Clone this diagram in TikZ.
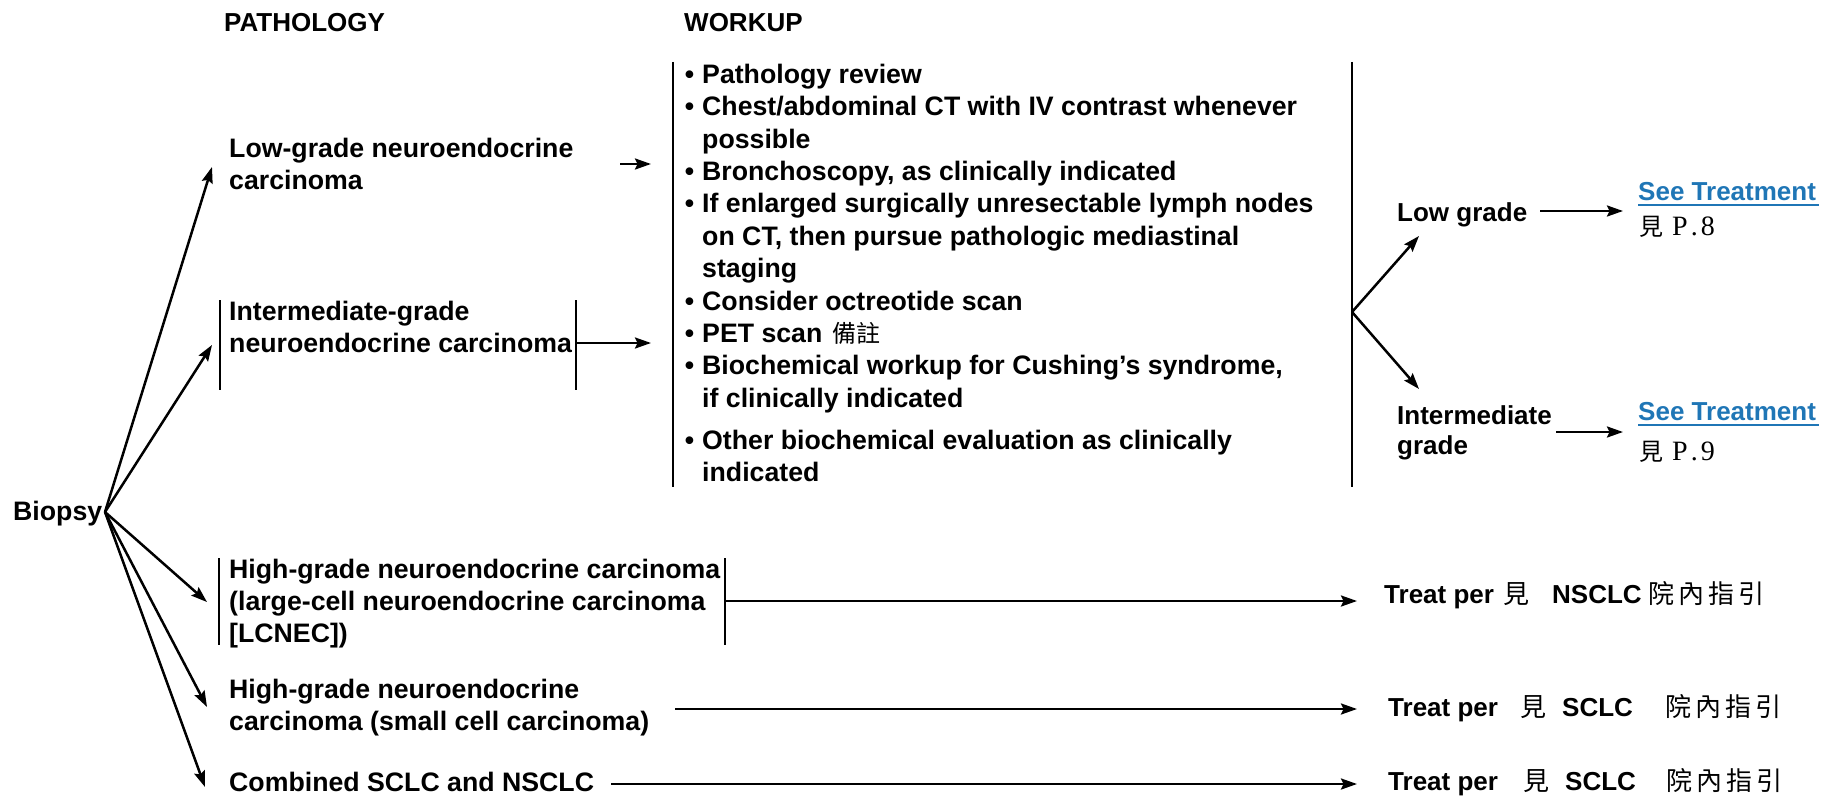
\documentclass[tikz,border=0pt]{standalone}
\usepackage{fontspec}
\setmainfont{Liberation Sans}
\newfontfamily\cjk{Noto Sans CJK TC}
\newfontfamily\serifP{Liberation Serif}
\usetikzlibrary{arrows.meta,calc}
\definecolor{lnk}{HTML}{1F76B6}
\newcommand\fst{\rule{0pt}{23pt}}
\newcommand\bul{\llap{\textbullet\hspace{8pt}}}
\newcommand\cj[1]{{\cjk\mdseries\fontsize{24}{24}\selectfont #1}}
\newcommand\cjb[1]{{\cjk\mdseries\fontsize{26}{26}\selectfont #1}}
\begin{document}
\begin{tikzpicture}[x=1pt,y=-1pt,
  txt/.style={anchor=north west, inner sep=0pt, align=left, font=\bfseries\fontsize{26.7}{32}\selectfont},
  txtb/.style={anchor=north west, inner sep=0pt, align=left, font=\bfseries\fontsize{26}{30}\selectfont},
  hdr/.style={anchor=base west, inner sep=0pt, font=\bfseries\fontsize{26}{30}\selectfont},
  treat/.style={anchor=base west, inner sep=0pt, font=\bfseries\fontsize{26}{30}\selectfont},
  ref/.style={anchor=base west, inner sep=0pt},
  arr/.style={line width=2.5pt, -{Stealth[length=16pt,width=11pt,inset=2.5pt]}},
  barline/.style={line width=2.5pt},
  uline/.style={lnk, line width=1.8pt}]
\useasboundingbox (0,0) rectangle (1827,797);

% headers
\node[hdr] (hpath) at (224,32) {PATHOLOGY};
\node[hdr] (hwork) at (684,32) {WORKUP};

% pathology column
\node[txt] (biopsy) at (13,497) {\fst Biopsy};
\node[txt] (low) at (229,134) {\fst Low-grade neuroendocrine\\carcinoma};
\node[txt] (inter) at (229,297) {\fst Intermediate-grade\\neuroendocrine carcinoma};
\node[txt] (lcnec) at (229,555) {\fst High-grade neuroendocrine carcinoma\\(large-cell neuroendocrine carcinoma\\{[LCNEC])}};
\node[txt] (small) at (229,675) {\fst High-grade neuroendocrine\\carcinoma (small cell carcinoma)};
\node[txt] (comb) at (229,768) {\fst Combined SCLC and NSCLC};

% workup list
\node[txt, font=\bfseries\fontsize{26.7}{32.4}\selectfont] (workup) at (702,60) {%
\fst\bul Pathology review\\
\bul Chest/abdominal CT with IV contrast whenever\\
possible\\
\bul Bronchoscopy, as clinically indicated\\
\bul If enlarged surgically unresectable lymph nodes\\
on CT, then pursue pathologic mediastinal\\
staging\\
\bul Consider octreotide scan\\
\bul PET scan\hspace{10pt}\cj{備註}\\
\bul Biochemical workup for Cushing’s syndrome,\\
if clinically indicated\\[9.6pt]
\bul Other biochemical evaluation as clinically\\
indicated};

% right side
\node[txtb] (lowg) at (1397,198) {\fst Low grade};
\node[txtb] (intg) at (1397,401) {\fst Intermediate\\grade};
\node[txtb, text=lnk] (see1) at (1638,177) {\fst See Treatment};
\node[txtb, text=lnk] (see2) at (1638,397) {\fst See Treatment};
\node[ref] (p8) at (1639,235) {\cj{見}\hspace{9pt}{\serifP\fontsize{28}{28}\selectfont P\kern3pt.\kern3pt 8}};
\node[ref] (p9) at (1639,460) {\cj{見}\hspace{9pt}{\serifP\fontsize{28}{28}\selectfont P\kern3pt.\kern3pt 9}};
\draw[uline] ($(see1.base west)+(0,5)$) -- ($(see1.base east)+(3,5)$);
\draw[uline] ($(see2.base west)+(0,5)$) -- ($(see2.base east)+(3,5)$);

\node[treat] (t1) at (1384,603) {\makebox[119pt][l]{Treat per}\makebox[49pt][l]{\cjb{見}}\makebox[96pt][l]{NSCLC}\cjb{院\kern4pt 內\kern4pt 指\kern4pt 引}};
\node[treat] (t2) at (1388,716) {\makebox[132pt][l]{Treat per}\makebox[42pt][l]{\cjb{見}}\makebox[103pt][l]{SCLC}\cjb{院\kern4pt 內\kern4pt 指\kern4pt 引}};
\node[treat] (t3) at (1388,790) {\makebox[135pt][l]{Treat per}\makebox[42pt][l]{\cjb{見}}\makebox[101pt][l]{SCLC}\cjb{院\kern4pt 內\kern4pt 指\kern4pt 引}};

% bars
\draw[barline] (220,300) -- (220,390);
\draw[barline] (576,300) -- (576,390);
\draw[barline] (219,558) -- (219,645);
\draw[barline] (725,558) -- (725,645);
\draw[barline] (673,62) -- (673,487);
\draw[barline] (1352,62) -- (1352,487);

% coordinates
\coordinate (bo) at (105,512);
\coordinate (tLow) at (212,167);
\coordinate (tInt) at (212,345);
\coordinate (tLc) at (207,602);
\coordinate (tSm) at (207,707);
\coordinate (tCo) at (205,787);
\coordinate (lowA) at (620,164);
\coordinate (lowB) at (651,164);
\coordinate (intA) at (577,343);
\coordinate (intB) at (651,343);
\coordinate (br) at (1352,312);
\coordinate (brL) at (1419,236);
\coordinate (brI) at (1419,389);
\coordinate (lgA) at (1540,211);
\coordinate (lgB) at (1623,211);
\coordinate (igA) at (1556,432);
\coordinate (igB) at (1623,432);
\coordinate (lcA) at (726,601);
\coordinate (lcB) at (1357,601);
\coordinate (smA) at (675,709);
\coordinate (smB) at (1357,709);
\coordinate (coA) at (611,784);
\coordinate (coB) at (1357,784);

% arrows
\draw[arr] (bo) -- (tLow);
\draw[arr] (bo) -- (tInt);
\draw[arr] (bo) -- (tLc);
\draw[arr] (bo) -- (tSm);
\draw[arr] (bo) -- (tCo);
\draw[arr] (lowA) -- (lowB);
\draw[arr] (intA) -- (intB);
\draw[arr] (br) -- (brL);
\draw[arr] (br) -- (brI);
\draw[arr] (lgA) -- (lgB);
\draw[arr] (igA) -- (igB);
\draw[arr] (lcA) -- (lcB);
\draw[arr] (smA) -- (smB);
\draw[arr] (coA) -- (coB);
\end{tikzpicture}
\end{document}
